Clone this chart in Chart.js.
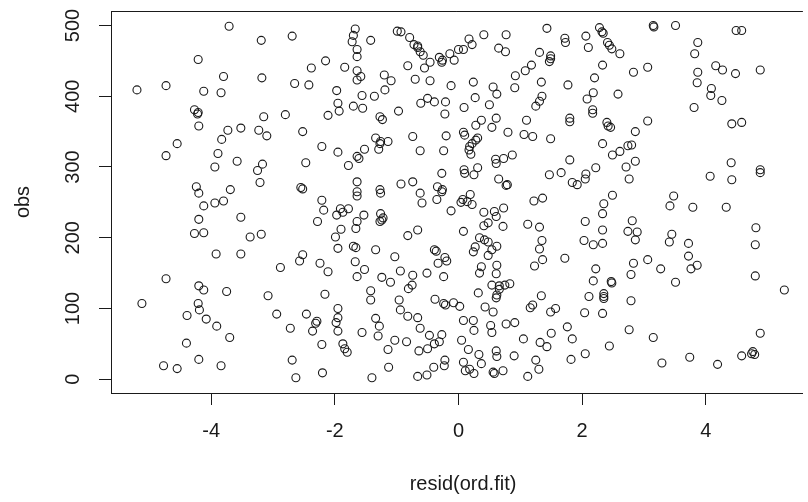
<!DOCTYPE html>
<html>
<head>
<meta charset="utf-8">
<script src="https://cdn.jsdelivr.net/npm/chart.js@4.4.1/dist/chart.umd.min.js"></script>
<style>
  html, body { margin: 0; padding: 0; background: #fff; overflow: hidden; }
  #plot { display: block; }
</style>
</head>
<body>
<canvas id="plot" width="808" height="502"></canvas>
<script>
const xLabel = "resid(ord.fit)";
const yLabel = "obs";
const xTicks = [-4, -2, 0, 2, 4];
const yTicks = [0, 100, 200, 300, 400, 500];

// residuals (top to bottom)
const resid = [
  -3.71,-2.69,-3.19,-1.67,-1.70,-1.72,-1.42,-0.99,-0.93,-0.79,-0.72,-0.66,-0.66,0.41,0.17,0.22,0.65,0.77,0.76,1.43,1.72,1.73,2.06,2.10,2.28,2.32,2.34,2.41,2.44,2.48,2.61,3.15,3.16,3.51,4.49,4.58,3.87,3.82,
  -1.64,-1.64,-0.62,-0.57,-0.26,-0.27,-0.46,-0.31,-0.14,-0.07,0.00,0.08,1.31,1.49,1.47,1.49,1.18,1.08,0.92,2.33,-4.21,-2.15,-2.38,-1.84,-0.82,3.06,2.83,4.16,4.27,4.48,4.88,3.87,-1.64,-1.58,-1.64,-1.20,-0.55,
  -3.80,-3.18,-2.65,-2.42,-1.97,-1.09,-0.70,-0.46,-0.12,0.24,0.56,0.91,1.34,1.77,2.20,2.18,3.86,4.09,-5.20,-4.73,-4.12,-3.84,-1.19,0.62,2.58,-1.56,-1.36,0.27,2.08,4.08,4.26,-0.50,-0.21,-0.39,-0.61,-1.95,0.50,1.35,1.31,1.25,
  -4.27,-4.21,-4.22,-4.20,-2.80,-3.15,-2.11,-1.93,-1.70,-1.55,-1.27,-1.23,-0.97,-0.22,0.09,0.37,0.28,0.54,0.61,1.10,2.17,2.17,1.80,1.80,2.40,2.42,2.46,3.06,3.81,4.42,4.58,
  -3.73,-3.52,-3.23,-3.10,-2.52,-4.55,-3.83,-3.89,-4.73,-2.21,-1.95,-1.34,-1.26,-1.14,-1.27,-1.29,-1.52,-0.74,-0.62,-0.20,-0.24,0.08,0.10,0.18,0.22,0.28,0.31,0.17,0.20,0.80,1.06,1.20,1.49,2.33,2.86,2.74,2.80,2.61,2.49,0.87,
  -1.64,-1.61,-1.78,-2.47,-3.58,-3.17,-3.25,-3.94,-3.21,0.60,0.73,0.61,0.31,0.09,0.10,-0.27,0.25,1.80,2.22,2.71,2.86,2.76,1.47,1.66,2.06,2.05,1.84,1.92,4.07,4.41,4.42,4.88,4.88,0.65,0.79,
  -4.24,-4.20,-3.69,-4.12,-3.94,-3.80,-2.55,-2.52,-1.64,-1.64,-1.64,-1.27,-1.26,-0.93,-0.74,-0.62,-0.59,-0.35,-0.34,-0.26,-0.27,0.07,0.14,0.19,0.22,0.04,0.77,1.22,1.36,2.49,2.35,3.48,3.42,3.79,4.33,-2.21,-2.18,0.73,-0.12,
  -4.20,-3.52,-4.27,-4.12,-3.37,-3.19,-2.28,-1.91,-1.78,-1.87,-1.97,-1.53,-1.26,-1.22,-1.24,-1.27,-1.64,-1.66,-1.90,-0.66,-0.82,0.41,0.58,0.61,0.48,0.41,0.72,0.08,1.12,1.31,2.05,2.33,2.33,2.81,2.74,2.89,4.81,3.45,-1.99,0.34,
  3.41,3.72,4.80,2.86,2.03,2.33,2.18,1.35,1.31,1.36,1.72,0.42,0.27,0.24,0.48,0.54,0.48,0.62,-0.39,-0.36,-0.22,-0.19,-0.33,-1.34,-1.70,-1.66,-1.95,-1.03,-3.92,-3.52,-2.52,-2.57,3.72,3.06,2.83,3.86,3.76,2.22,3.27,-2.24,-1.67,-2.11,
  -2.88,-1.52,-0.94,-0.74,-0.51,0.37,0.34,0.62,0.61,-0.24,-1.64,-1.24,1.23,2.79,4.80,-4.73,2.18,2.47,2.48,3.51,-1.10,-0.75,0.54,0.66,0.75,0.83,0.66,-4.20,-4.12,
  5.27,-3.75,-3.08,-2.16,-1.42,-1.42,-0.81,0.32,0.62,0.61,2.35,2.35,2.35,2.11,1.34,1.20,1.16,1.57,1.49,2.79,-0.38,-0.24,-0.08,-0.21,0.02,-5.12,-4.21,-4.19,-1.95,-0.96,-0.94,0.43,0.56,2.04,2.33,-4.39,-2.46,
  -2.94,-1.95,-0.82,-0.66,-1.34,-4.08,-3.91,-2.29,-2.31,-1.98,-1.95,-2.72,-2.36,-1.56,-1.28,-1.30,0.08,0.24,0.25,0.52,0.77,0.91,-0.62,0.54,1.76,2.76,1.50,4.88,3.15,-0.47,-0.27,-3.70,1.84,1.05,-1.03,
  -4.40,-1.87,-0.84,-0.39,-0.31,0.05,1.32,-2.21,-1.84,-1.80,-1.14,-0.50,-0.64,0.16,1.43,2.44,0.33,0.61,0.62,0.90,2.05,4.76,4.74,4.79,4.58,3.74,1.82,-4.20,-2.69,1.25,3.29,4.19,-4.77,-4.55,-3.84,-0.22,-0.23,0.08,0.37,-0.40,
  -1.13,-2.20,-2.63,-1.40,-0.66,-0.51,0.11,0.18,0.25,0.56,0.58,0.72,1.12,1.30
];

const obs = [
  499,485,479,495,486,477,479,492,491,483,473,471,469,487,481,473,468,487,463,496,482,476,485,469,497,491,489,476,472,467,460,500,498,500,493,493,476,460,
  466,456,463,458,451,448,448,455,460,451,466,466,462,457,449,453,444,436,429,444,452,450,440,441,443,441,434,443,437,432,437,434,436,428,423,430,440,
  428,426,418,416,408,422,424,422,415,420,413,412,420,416,426,405,419,411,409,415,407,405,409,403,403,401,400,398,396,401,394,397,392,392,390,390,388,400,393,386,
  381,377,375,358,374,371,373,379,386,383,371,367,379,375,384,366,359,356,369,366,381,376,369,364,363,358,356,365,384,361,363,
  352,355,352,344,350,333,339,319,316,329,321,341,336,336,333,325,325,343,323,344,323,349,345,329,333,338,341,324,318,349,346,343,340,333,350,330,331,322,317,317,
  315,312,302,306,308,304,295,300,278,311,312,305,299,296,291,291,289,310,299,300,308,283,289,292,290,283,278,275,287,306,282,296,292,283,275,
  272,263,268,245,249,252,271,269,279,265,259,268,263,276,279,263,249,254,272,268,265,254,251,261,247,250,274,252,256,260,248,259,245,243,243,253,239,242,238,
  226,229,206,207,201,205,223,241,241,236,232,232,234,228,225,223,223,213,212,211,203,236,237,230,221,217,216,209,219,215,223,234,211,224,209,208,214,205,201,200,
  194,192,190,197,196,192,190,196,184,169,171,197,187,180,194,183,175,188,183,181,172,167,164,183,188,186,185,173,177,177,176,167,174,169,164,161,156,156,156,164,166,152,
  158,155,153,147,150,159,150,161,149,145,145,144,160,148,146,142,139,138,136,137,137,133,133,132,133,135,127,132,126,
  126,124,118,120,125,112,128,122,119,115,121,117,114,117,118,105,101,100,95,111,113,107,108,105,103,107,107,98,100,112,98,102,95,94,93,90,92,
  92,87,89,87,86,85,75,82,79,80,68,72,68,66,75,61,83,83,69,76,78,80,72,66,74,70,65,65,59,62,63,59,57,57,55,
  51,50,53,50,53,55,52,49,43,38,42,43,40,42,46,47,35,40,32,33,36,39,36,35,33,31,28,28,27,27,23,21,19,15,19,27,19,24,22,17,
  17,9,2,2,4,6,12,14,8,10,8,12,4,14
];

const ink = "#1a1a1a";
const family = "'Liberation Sans', Arial, sans-serif";

// R writes the y tick labels turned on their side; Chart.js only rotates x labels,
// so those, the two axis titles and the top edge of the box are drawn here
const rAxisText = {
  id: "rAxisText",
  afterDraw(chart) {
    const { ctx, chartArea, scales: { y } } = chart;
    ctx.save();
    ctx.strokeStyle = ink;
    ctx.lineWidth = 1;
    ctx.beginPath();
    ctx.moveTo(chartArea.left, chartArea.top + 0.5);
    ctx.lineTo(chartArea.right, chartArea.top + 0.5);
    ctx.stroke();

    ctx.fillStyle = ink;
    ctx.font = `20px ${family}`;
    ctx.textAlign = "center";
    ctx.textBaseline = "middle";
    yTicks.forEach(v => {
      ctx.save();
      ctx.translate(73, y.getPixelForValue(v));
      ctx.rotate(-Math.PI / 2);
      ctx.fillText(String(v), 0, 0);
      ctx.restore();
    });
    ctx.save();
    ctx.translate(23, (chartArea.top + chartArea.bottom) / 2);
    ctx.rotate(-Math.PI / 2);
    ctx.fillText(yLabel, 0, 0);
    ctx.restore();
    ctx.fillText(xLabel, 463, 484);
    ctx.restore();
  }
};

new Chart(document.getElementById("plot"), {
  type: "scatter",
  data: {
    datasets: [{
      data: resid.map((r, i) => ({ x: r, y: obs[i] })),
      pointStyle: "circle",
      pointRadius: 4,
      pointBorderWidth: 1.1,
      pointBorderColor: ink,
      pointBackgroundColor: "rgba(0,0,0,0)"
    }]
  },
  options: {
    responsive: false,
    animation: false,
    devicePixelRatio: 1,
    events: [],
    layout: { padding: { top: 11, right: 0, left: 0, bottom: 0 } },
    plugins: { legend: { display: false }, tooltip: { enabled: false } },
    scales: {
      x: {
        type: "linear",
        min: -5.62,
        max: 5.57,
        afterFit(scale) { scale.height = 109; },
        afterBuildTicks(scale) { scale.ticks = xTicks.map(v => ({ value: v })); },
        border: { display: true, color: ink, width: 1 },
        grid: { drawOnChartArea: false, drawTicks: true, tickLength: 12, color: ink },
        ticks: {
          color: ink,
          font: { family, size: 20 },
          padding: 14,
          maxRotation: 0,
          autoSkip: false
        }
      },
      y: {
        type: "linear",
        min: -19.5,
        max: 520.5,
        afterFit(scale) { scale.width = 111; },
        afterBuildTicks(scale) { scale.ticks = yTicks.map(v => ({ value: v })); },
        border: { display: true, color: ink, width: 1 },
        grid: { drawOnChartArea: false, drawTicks: true, tickLength: 12, color: ink },
        ticks: { display: false }
      }
    }
  },
  plugins: [rAxisText]
});
</script>
</body>
</html>
